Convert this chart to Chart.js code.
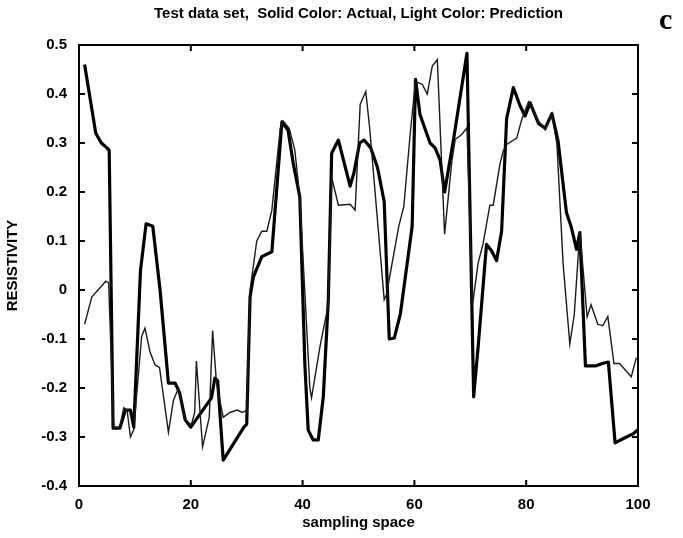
<!DOCTYPE html>
<html>
<head>
<meta charset="utf-8">
<script src="https://cdn.jsdelivr.net/npm/chart.js@4.4.0/dist/chart.umd.min.js"></script>
<style>
  html, body { margin: 0; padding: 0; background: #fff; }
</style>
</head>
<body>
<canvas id="chart" width="683" height="538"></canvas>
<script>
// Actual (thick line)
const actualX = [1, 3, 4, 5, 5.4, 6.1, 7.3, 8.3, 9.2, 9.8, 11, 12, 13.2, 14.5, 16, 17.2, 18, 19, 20,
  23.7, 24.3, 24.8, 25.8, 29.5, 30, 30.6, 31.2, 32.7, 34.5, 36.3, 37.4, 38.3, 39.5, 40.4, 41, 41.9, 42.8,
  43.7, 44.6, 45.2, 46.4, 48.5, 49.2, 50.2, 51, 52.2, 53.4, 54.6, 55.5, 56.4, 57.5, 59.6, 60.2, 61, 62.8,
  63.7, 64.6, 65.4, 67, 69.4, 70.6, 71.4, 72.9, 73.8, 74.7, 75.6, 76.5, 77.7, 78.9, 79.8, 80.7, 82.2, 83.4,
  84.6, 85.7, 87.2, 88.1, 89, 89.6, 90.6, 92.4, 93.6, 94.7, 95.9, 97.4, 99.2, 100];
const actualY = [0.46, 0.32, 0.30, 0.29, 0.285, -0.282, -0.282, -0.245, -0.245, -0.28, 0.04, 0.135, 0.13, 0.0, -0.19, -0.19, -0.21, -0.265, -0.28,
  -0.22, -0.18, -0.185, -0.347, -0.28, -0.274, -0.014, 0.027, 0.068, 0.078, 0.343, 0.326, 0.26, 0.19, -0.15, -0.286, -0.306, -0.306,
  -0.218, -0.02, 0.279, 0.306, 0.212, 0.24, 0.30, 0.306, 0.29, 0.25, 0.18, -0.10, -0.098, -0.048, 0.13, 0.43, 0.358, 0.30,
  0.29, 0.265, 0.20, 0.307, 0.483, -0.218, -0.116, 0.093, 0.08, 0.06, 0.12, 0.35, 0.413, 0.376, 0.355, 0.382, 0.34, 0.33,
  0.36, 0.304, 0.158, 0.127, 0.083, 0.117, -0.155, -0.155, -0.15, -0.147, -0.312, -0.303, -0.293, -0.285];

// Prediction (thin line)
const predX = [1, 2.3, 3.8, 4.8, 5.3, 6.2, 7.3, 8, 8.6, 9.2, 9.8, 11.2, 11.8, 12.7, 13.6, 14.4, 16, 16.9, 17.8, 19,
  20.1, 20.7, 21, 22.1, 23.3, 23.9, 24.6, 25.8, 27, 28.3, 29.2, 30, 30.6, 31.8, 32.7, 33.6, 34.5, 36, 36.5, 37.6,
  38.6, 39.5, 41.3, 41.6, 43.1, 44.6, 45.2, 46.4, 48.5, 49.4, 50.3, 51.3, 52, 54.6, 55, 57.2, 58.1, 59.3, 60.2,
  61.4, 62.3, 63.2, 64.1, 65.4, 66.7, 67.3, 68.5, 69.4, 70.4, 71.4, 72.3, 73.5, 74.1, 75.3, 75.9, 76.5, 78.3,
  79.2, 80.4, 82.2, 83.4, 84.6, 85.5, 86.6, 87.8, 88.6, 89.6, 90.9, 91.6, 92.8, 93.7, 94.6, 95.7, 96.7, 98.8, 99.7];
const predY = [-0.07, -0.014, 0.005, 0.018, 0.015, -0.28, -0.28, -0.24, -0.245, -0.30, -0.285, -0.095, -0.078, -0.126, -0.153, -0.158, -0.29, -0.225, -0.20, -0.265,
  -0.275, -0.25, -0.145, -0.32, -0.26, -0.083, -0.19, -0.26, -0.25, -0.245, -0.25, -0.245, 0.0, 0.10, 0.12, 0.12, 0.163, 0.33, 0.345, 0.33,
  0.286, 0.19, -0.2, -0.22, -0.116, -0.03, 0.23, 0.173, 0.175, 0.163, 0.379, 0.405, 0.33, -0.02, -0.01, 0.13, 0.17, 0.325, 0.425,
  0.42, 0.40, 0.457, 0.47, 0.114, 0.263, 0.307, 0.318, 0.331, -0.03, 0.055, 0.095, 0.173, 0.173, 0.257, 0.284, 0.297, 0.31,
  0.348, 0.384, 0.345, 0.327, 0.36, 0.297, 0.054, -0.11, -0.05, 0.12, -0.055, -0.03, -0.07, -0.073, -0.054, -0.15, -0.15, -0.177, -0.138];

const xTicks = [0, 20, 40, 60, 80, 100];
const yTicks = [-0.4, -0.3, -0.2, -0.1, 0, 0.1, 0.2, 0.3, 0.4, 0.5];

const toPoints = (xs, ys) => xs.map((x, i) => ({ x: x, y: ys[i] }));

// MATLAB style frame: box around the plot with ticks pointing inward, plus the panel letter
const framePlugin = {
    id: 'frame',
    afterDatasetsDraw(chart) {
        const { ctx, chartArea: a, scales } = chart;
        ctx.save();
        ctx.strokeStyle = '#000';
        ctx.lineWidth = 2;
        ctx.strokeRect(a.left, a.top, a.right - a.left, a.bottom - a.top);
        const len = 6;
        xTicks.forEach(v => {
            const px = scales.x.getPixelForValue(v);
            ctx.beginPath();
            ctx.moveTo(px, a.bottom); ctx.lineTo(px, a.bottom - len);
            ctx.moveTo(px, a.top); ctx.lineTo(px, a.top + len);
            ctx.stroke();
        });
        yTicks.forEach(v => {
            const py = scales.y.getPixelForValue(v);
            ctx.beginPath();
            ctx.moveTo(a.left, py); ctx.lineTo(a.left + len, py);
            ctx.moveTo(a.right, py); ctx.lineTo(a.right - len, py);
            ctx.stroke();
        });
        ctx.fillStyle = '#000';
        ctx.font = 'bold 30px "Liberation Serif"';
        ctx.textAlign = 'left';
        ctx.textBaseline = 'alphabetic';
        ctx.fillText('c', 659, 29);
        ctx.restore();
    }
};

const ctx = document.getElementById('chart').getContext('2d');
new Chart(ctx, {
    type: 'line',
    data: {
        datasets: [
            {
                label: 'Prediction',
                data: toPoints(predX, predY),
                borderColor: '#1a1a1a',
                borderWidth: 1.4,
                pointRadius: 0,
                tension: 0
            },
            {
                label: 'Actual',
                data: toPoints(actualX, actualY),
                borderColor: '#000',
                borderWidth: 3.2,
                pointRadius: 0,
                tension: 0,
                borderJoinStyle: 'round'
            }
        ]
    },
    options: {
        responsive: false,
        animation: false,
        layout: { padding: { top: 0, right: 45, bottom: 0, left: 0 } },
        plugins: {
            legend: { display: false },
            tooltip: { enabled: false },
            title: {
                display: true,
                fullSize: false,
                text: 'Test data set,  Solid Color: Actual, Light Color: Prediction',
                color: '#000',
                font: { family: '"Liberation Sans", Arial', size: 15, weight: 'bold', lineHeight: 1.2 },
                padding: { top: 5, bottom: 22 }
            }
        },
        scales: {
            x: {
                type: 'linear',
                min: 0,
                max: 100,
                afterBuildTicks: scale => { scale.ticks = xTicks.map(v => ({ value: v })); },
                afterFit: scale => { scale.height = 52; },
                grid: { display: false, drawTicks: false },
                border: { display: false },
                ticks: {
                    color: '#000',
                    padding: 10,
                    maxRotation: 0,
                    font: { family: '"Liberation Sans", Arial', size: 15, weight: 'bold' }
                },
                title: {
                    display: true,
                    text: 'sampling space',
                    color: '#000',
                    padding: { top: 0, bottom: 6 },
                    font: { family: '"Liberation Sans", Arial', size: 15, weight: 'bold' }
                }
            },
            y: {
                min: -0.4,
                max: 0.5,
                afterBuildTicks: scale => { scale.ticks = yTicks.map(v => ({ value: v })); },
                afterFit: scale => { scale.width = 79; },
                grid: { display: false, drawTicks: false },
                border: { display: false },
                ticks: {
                    color: '#000',
                    padding: 12,
                    font: { family: '"Liberation Sans", Arial', size: 15, weight: 'bold' },
                    callback: v => (Math.round(v * 10) / 10).toString()
                },
                title: {
                    display: true,
                    text: 'RESISTIVITY',
                    color: '#000',
                    padding: { top: 4, bottom: 0 },
                    font: { family: '"Liberation Sans", Arial', size: 15, weight: 'bold' }
                }
            }
        }
    },
    plugins: [framePlugin]
});
</script>
</body>
</html>
